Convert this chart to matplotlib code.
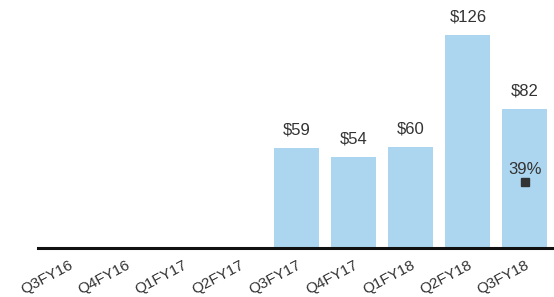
import numpy as np
import matplotlib.pyplot as plt

quarters = ["Q3FY16", "Q4FY16", "Q1FY17", "Q2FY17", "Q3FY17",
            "Q4FY17", "Q1FY18", "Q2FY18", "Q3FY18"]
revenue = [np.nan, np.nan, np.nan, np.nan, 59, 54, 60, 126, 82]
pct_quarter = "Q3FY18"
pct_value = 39

BAR_COLOR = "#acd6f0"
TEXT_COLOR = "#333333"

fig = plt.figure(figsize=(5.54, 2.97), dpi=100)
ax = fig.add_axes([0.0686, 0.165, 0.9314, 0.797])

x = np.arange(len(quarters))
ax.bar(x, revenue, width=0.79, color=BAR_COLOR, zorder=2)

for xi, v in zip(x, revenue):
    if np.isnan(v):
        continue
    ax.annotate(f"${v:.0f}", (xi, v), xytext=(0, 7.5), textcoords="offset points",
                ha="center", va="bottom", fontsize=12, color=TEXT_COLOR,
                family="Liberation Sans")

ax.set_xlim(-0.544, 8.51)
ax.set_ylim(0, 140)

# percentage marker on its own scale
ax2 = ax.twinx()
ax2.set_ylim(0, 140)
px = quarters.index(pct_quarter)
ax2.plot([px], [pct_value], marker="s", markersize=6, color="#333333", linestyle="none")
ax2.annotate(f"{pct_value}%", (px, pct_value), xytext=(0, 3.5), textcoords="offset points",
             ha="center", va="bottom", fontsize=12, color=TEXT_COLOR,
             family="Liberation Sans")
ax2.axis("off")

for s in ["left", "right", "top"]:
    ax.spines[s].set_visible(False)
ax.spines["bottom"].set_linewidth(2.2)
ax.spines["bottom"].set_color("#111111")
ax.spines["bottom"].set_zorder(3)

ax.set_yticks([])
ax.set_xticks(x)
ax.set_xticklabels(quarters, rotation=28, ha="right", rotation_mode="anchor",
                   fontsize=11, color=TEXT_COLOR, family="Liberation Sans")
ax.tick_params(axis="x", length=0, pad=7)

fig.savefig("out.png", dpi=100)
